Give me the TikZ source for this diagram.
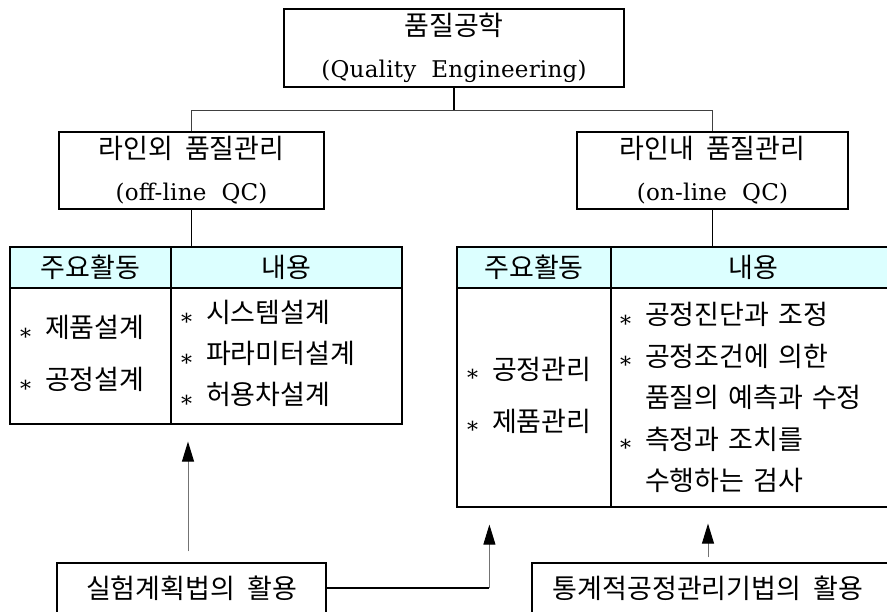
\documentclass[tikz,border=0pt]{standalone}
\usepackage{fontspec}
\setmainfont{Noto Sans CJK KR}[WordSpace=2]
\newfontfamily\latfont{DejaVu Serif}[LetterSpace=1,WordSpace=2]
\usetikzlibrary{arrows.meta}
\usetikzlibrary{calc}
\definecolor{headcyan}{RGB}{220,255,255}
\newcommand{\eng}[1]{{\latfont\fontsize{23}{42}\selectfont #1}}
\newcommand{\bul}{\makebox[25pt][l]{\latfont\fontsize{22}{22}\selectfont\raisebox{-.3em}{*}}}
\newcommand{\ind}{\hspace*{25pt}}

\begin{document}
\begin{tikzpicture}[x=1pt,y=-1pt,
  box/.style={draw,line width=1.2pt,align=center,inner sep=0pt,font=\fontsize{27}{42}\selectfont},
  headcell/.style={draw,line width=1.2pt,fill=headcyan,minimum height=41pt,inner sep=0pt,font=\fontsize{27}{28}\selectfont},
  bodycell/.style={draw,line width=1.2pt,inner xsep=10pt,inner ysep=0pt,align=left},
  upline/.style={-{Triangle[length=20pt,width=12pt,color=black]},line width=0.9pt,black!55}]
\useasboundingbox (0,0) rectangle (887,612);
% quality engineering and its two branches
\node[box,minimum width=340pt,minimum height=78pt] (top) at (454,48) {품질공학\\\eng{(Quality Engineering)}};
\node[box,minimum width=265pt,minimum height=77pt] (off) at (191.5,170.5) {라인외 품질관리\\\eng{(off-line QC)}};
\node[box,minimum width=271pt,minimum height=77pt] (on) at (712.5,170.5) {라인내 품질관리\\\eng{(on-line QC)}};
\draw[line width=1.2pt] (top.south) -- ++(0,23) coordinate (bus);
\draw[line width=1.2pt,black!75] (off.north) |- (bus) -| (on.north);

% off-line table
\node[headcell,minimum width=161pt] (lhA) at (90.5,267.5) {주요활동};
\node[headcell,minimum width=231pt] (lhB) at (286.5,267.5) {내용};
\node[bodycell,text width=141pt,minimum height=136pt,font=\fontsize{27}{52}\selectfont] (lbA) at (90.5,356) {\bul 제품설계\\\bul 공정설계};
\node[bodycell,text width=211pt,minimum height=136pt,font=\fontsize{27}{41}\selectfont] (lbB) at (286.5,356) {\bul 시스템설계\\\bul 파라미터설계\\\bul 허용차설계};
\draw[line width=1.2pt] (off.south) -- (off.south |- lhB.north);

% on-line table
\node[headcell,minimum width=154pt] (rhA) at (534,267.5) {주요활동};
\node[headcell,minimum width=284pt] (rhB) at (753,267.5) {내용};
\node[bodycell,text width=134pt,minimum height=219pt,font=\fontsize{27}{52}\selectfont] (rbA) at (534,397.5) {\bul 공정관리\\\bul 제품관리};
\node[bodycell,inner xsep=9pt,text width=266pt,minimum height=219pt,font=\fontsize{27}{41.5}\selectfont] (rbB) at (753,397.5) {\bul 공정진단과 조정\\\bul 공정조건에 의한\\\ind 품질의 예측과 수정\\\bul 측정과 조치를\\\ind 수행하는 검사};
\draw[line width=1.2pt] (on.south) -- (on.south |- rhB.north);

% methods at the bottom
\node[box,minimum width=269pt,minimum height=50pt,font=\fontsize{27}{28}\selectfont] (lo) at (191.5,588) {실험계획법의 활용};
\node[box,minimum width=363pt,minimum height=50pt,font=\fontsize{27}{28}\selectfont] (st) at (713.5,588) {통계적공정관리기법의 활용\hspace{11pt}};
\draw[upline] ($(lo.north)+(-3.5,-11)$) -- ($(lo.north |- lbB.south)+(-3.5,17)$);
\coordinate (bend) at ($(rbA.south west)+(33,80)$);
\draw[line width=1.2pt] (lo.east) -- (lo.east -| bend);
\draw[upline] (lo.east -| bend) -- ($(rbA.south west)+(33,17)$);
\draw[upline] ($(st.north)+(-5.5,-5)$) -- ($(st.north |- rbB.south)+(-5.5,16)$);
\end{tikzpicture}
\end{document}
